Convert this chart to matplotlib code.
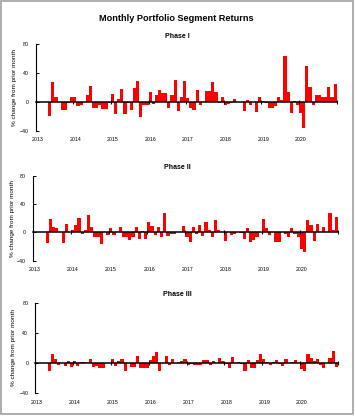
import numpy as np
import pandas as pd
import matplotlib
matplotlib.use('Agg')
import matplotlib.pyplot as plt
from matplotlib.patches import Rectangle

plt.rcParams['font.family'] = ['Liberation Sans', 'DejaVu Sans']

# Monthly returns, May 2013 .. Dec 2020 (% change from prior month)
months = pd.date_range('2013-05-01', '2020-12-01', freq='MS')

phase1 = [-19, 27, 6, 0, -12, -12, -1, 7, 7, -6, -4, 0, 10, 22, -9, -9, -5, -10, -10, -2,
          11, -17, 4, 18, -17, -1, -11, 19, 29, -21, -5, -5, 13, -3, 10, 16, 12, 12, -9, 10,
          30, -13, 6, 29, 5, -8, -12, 17, -5, 0, 15, 15, 27, 13, -2, 6, -5, -3, -1, 4,
          0, 0, -13, 2, -4, 0, -14, 7, 1, -2, -8, -9, -6, 7, 3, 64, 13, -16, 1, -5,
          -15, -36, 50, 20, -4, 9, 9, 6, 6, 20, 6, 25]

phase2 = [-15, 19, 7, 6, 0, -15, 12, 0, 4, 10, 20, -2, 3, 24, 8, -6, -6, -16, 0, -3,
          6, -3, 0, 8, -6, -6, -11, -6, 7, -9, 2, -10, 15, 9, -4, 7, -7, 27, -5, -2,
          -2, 0, 1, 9, -7, -14, 8, -2, 10, -5, 15, 3, -6, 17, 3, 1, -12, 1, -3, -2,
          0, -1, -10, 6, -14, -11, -7, 1, 19, 6, -4, 0, -14, -14, 0, -2, -7, 6, -2, -6,
          -24, -28, 18, 10, -12, 12, 1, 8, 0, 28, 3, 22]

phase3 = [-11, 12, 5, -2, 0, -4, 3, -5, 3, -4, 1, 1, 0, 6, -5, -4, -7, -7, 0, 0,
          5, -4, 3, 5, -10, 0, -5, -5, 9, -7, -7, -7, 4, 9, 15, -10, 0, 10, -3, 6,
          0, 1, 3, 5, -3, -1, -2, -2, -2, 4, 4, -3, 3, 0, 7, 3, -1, -6, 8, 0,
          2, -1, -10, 4, -7, -6, 4, 12, 6, 2, -2, 2, 4, -1, -4, 6, 0, 2, 4, 0,
          -8, -11, 12, 7, 3, 6, -2, -7, 0, 7, 16, -5]

titles = ['Phase I', 'Phase II', 'Phase III']
years = list(range(2013, 2022))
yticks = [-40, 0, 40, 80]

x = months.year + (months.month - 1) / 12.0

fig = plt.figure(figsize=(3.55, 4.16), dpi=100)
fig.patch.set_facecolor('white')
fig.patches.append(Rectangle((0.003, 0.004), 0.991, 0.993, transform=fig.transFigure,
                             fill=False, edgecolor='#a0a0a0', linewidth=1.2))

fig.text(0.497, 0.956, 'Monthly Portfolio Segment Returns', ha='center', va='center',
         fontsize=6.6, fontweight='bold')

# [left, bottom, width, height] in figure fraction
boxes = [[0.1003, 0.6858, 0.8482, 0.2084],
         [0.0927, 0.3733, 0.8593, 0.2043],
         [0.0992, 0.0546, 0.8528, 0.2178]]
title_y = [0.913, 0.598, 0.291]
ylab_x = [0.042, 0.034, 0.038]

for data, box, ttl, ty, lx in zip([phase1, phase2, phase3], boxes, titles, title_y, ylab_x):
    ax = fig.add_axes(box)
    ax.bar(x, data, width=1 / 12.0, align='edge', color='#ff0000', linewidth=0)
    ax.set_xlim(2013, 2021)
    ax.set_ylim(-40, 80)

    ax.spines['top'].set_visible(False)
    ax.spines['right'].set_visible(False)
    ax.spines['left'].set_linewidth(0.8)
    ax.spines['bottom'].set_position(('data', 0))
    ax.spines['bottom'].set_linewidth(1.1)

    ax.set_yticks(yticks)
    ax.tick_params(axis='y', direction='in', length=2.5, width=0.7, labelsize=3.8, pad=5)
    ax.set_xticks(years)
    ax.tick_params(axis='x', direction='inout', length=3, width=0.8, labelbottom=False)

    # year labels below the plot area
    for yr in years[:-1]:
        ax.text(yr + 0.05, -0.1, str(yr), transform=ax.get_xaxis_transform(),
                ha='center', va='center', fontsize=3.8)

    fig.text(0.5, ty, ttl, ha='center', va='center', fontsize=5, fontweight='bold')
    fig.text(lx, box[1] + box[3] / 2, '% change from prior month', rotation=90,
             ha='center', va='center', fontsize=4.6)

fig.savefig('out.png', dpi=100, facecolor='white')
